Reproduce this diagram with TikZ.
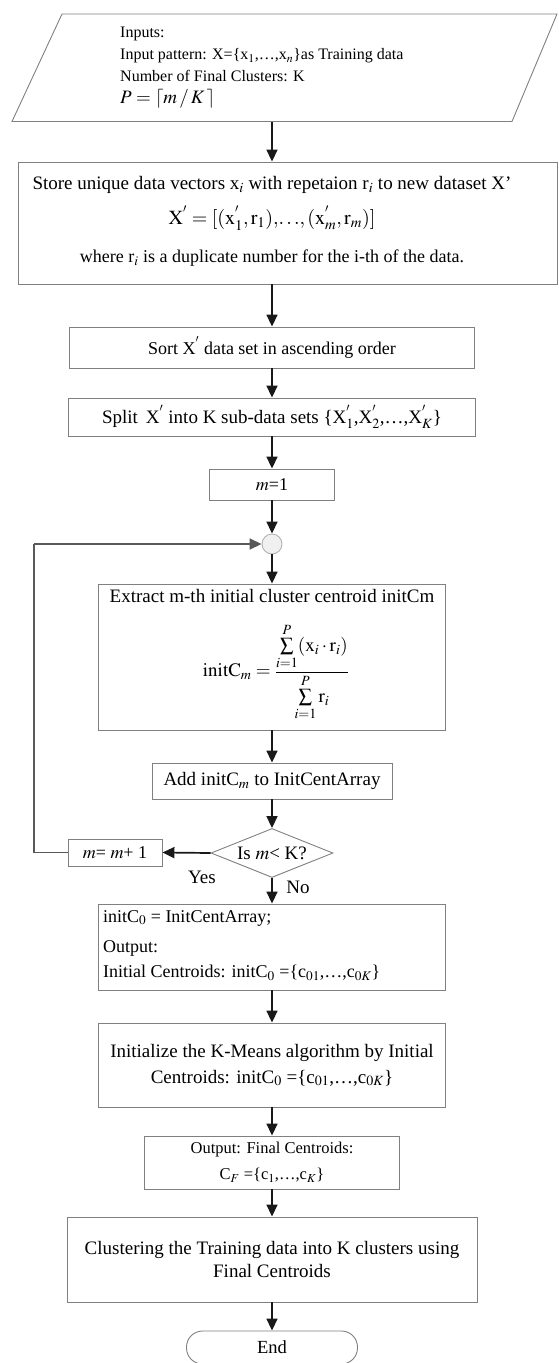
\documentclass[tikz,border=0pt]{standalone}
\usepackage{mathptmx}
\usepackage[no-math]{fontspec}
\setmainfont{Liberation Serif}
\usetikzlibrary{arrows.meta,shapes.geometric}
\newcommand\fs[2]{\fontsize{#1}{#2}\selectfont}
\begin{document}
\begin{tikzpicture}[x=1pt,y=-1pt,
  box/.style={draw=black!50, line width=0.9pt, rectangle, inner sep=0pt, align=center, font=\fs{19}{26}},
  txt/.style={inner sep=0pt, align=center, font=\fs{19}{23}},
  arr/.style={draw=black!90, line width=1.7pt, -{Triangle[length=12pt,width=11pt]}},
  loopline/.style={draw=black!65, line width=1.7pt},
  lbl/.style={font=\fs{19}{21}, inner sep=0pt}]
\useasboundingbox (0,0) rectangle (558,1363);
% input parallelogram
\draw[draw=black!50, line width=0.9pt] (62,14) -- (557,14) -- (512,121.5) -- (12,121.5) -- cycle;
\node[anchor=north west, align=left, inner sep=0pt, font=\fs{16}{22}] (inp) at (120,27)
  {Inputs:\\ Input pattern: X=\{x$_1$,\ldots,x$_n$\}as Training data\\ Number of Final Clusters: K\\ {\fs{19}{24}$P=\lceil m\, /\, K\,\rceil$}};
\coordinate (inb) at (272,121.5);
% box 2
\node[box, minimum width=539pt, minimum height=122pt] (b2) at (287.5,223) {};
\node[txt] (b2a) at (272,185) {Store unique data vectors x$_i$ with repetaion r$_i$ to new dataset X'};
\node[txt, font=\fs{20}{24}] (b2b) at (272,218)
  {$\mathrm{X}^{'}=[(\mathrm{x}^{'}_{1},\mathrm{r}_{1}),\!\ldots\!,(\mathrm{x}^{'}_{m},\mathrm{r}_{m})]$};
\node[txt, font=\fs{18}{22}] (b2c) at (272,258) {where r$_i$ is a duplicate number for the i-th of the data.};
\node[box, font=\fs{18}{22}, minimum width=405pt, minimum height=41pt] (sort) at (272,347.5) {Sort X$^{'}$ data set in ascending order};
\node[box, minimum width=407pt, minimum height=38pt] (split) at (272,417) {Split\, X$^{'}$ into K sub-data sets \{X$^{'}_1$,X$^{'}_2$,\ldots,X$^{'}_K$\}};
\node[box, font=\fs{18}{22}, minimum width=125pt, minimum height=31pt] (m1) at (272,484.5) {$m$=1};
\node[circle, draw=black!30, fill=black!6, line width=0.9pt, minimum size=20pt, inner sep=0pt] (jn) at (272,544) {};
\node[box, minimum width=347pt, minimum height=146pt] (ext) at (272,657) {};
\node[txt] (extt) at (272,596) {Extract m-th initial cluster centroid initCm};
\node[txt, font=\fs{19}{22}] (form) at (276,672)
  {$\displaystyle\mathrm{initC}_{m}=\frac{\sum\limits_{i=1}^{P}(\mathrm{x}_{i}\cdot \mathrm{r}_{i})}{\sum\limits_{i=1}^{P}\mathrm{r}_{i}}$};
\node[box, minimum width=240pt, minimum height=36pt] (add) at (272,781) {Add initC$_m$ to InitCentArray};
\node[diamond, draw=black!50, line width=0.9pt, minimum width=122pt, minimum height=49pt, inner sep=0pt, aspect=2.5, font=\fs{19}{21}] (dec) at (272,853) {Is $m$< K?};
\node[box, font=\fs{18}{22}, minimum width=94pt, minimum height=27pt] (mm) at (115,852.5) {$m$= $m$+ 1};
\node[lbl] (yes) at (202,877) {Yes};
\node[lbl] (no) at (298,887) {No};
\node[box, minimum width=347pt, minimum height=86pt] (b8) at (272,947) {};
\node[txt, anchor=west, font=\fs{18}{22}] (b8a) at (103,918) {initC$_0$ = InitCentArray;};
\node[txt, anchor=west, font=\fs{18}{22}] (b8b) at (103,948) {Output:};
\node[txt, anchor=west, font=\fs{18}{22}] (b8c) at (103,973) {Initial Centroids: initC$_0$ =\{c$_{01}$,\ldots,c$_{0K}$\}};
\node[box, minimum width=347pt, minimum height=84pt] (b9) at (272,1065)
  {Initialize the K-Means algorithm by Initial\\ Centroids: initC$_0$ =\{c$_{01}$,\ldots,c$_{0K}$\}};
\node[box, minimum width=255pt, minimum height=53pt, font=\fs{16.5}{26}] (b10) at (272,1162.5)
  {Output: Final Centroids:\\ C$_F$ =\{c$_1$,\ldots,c$_K$\}};
\node[box, minimum width=410pt, minimum height=85pt, font=\fs{19}{23}] (b11) at (272,1259.5)
  {Clustering the Training data into K clusters using\\ Final Centroids};
\node[box, font=\fs{18.5}{22}, rounded corners=16pt, minimum width=171pt, minimum height=33pt] (end) at (272,1347.5) {End};
% connectors
\draw[arr] (inb) -- (inb |- b2.north);
\draw[arr] (b2.south -| inb) -- (sort.north);
\draw[arr] (sort) -- (split);
\draw[arr] (split) -- (m1);
\draw[arr] (m1) -- (jn);
\draw[arr] (jn) -- (ext);
\draw[arr] (ext) -- (add);
\draw[arr] (add) -- (dec);
\draw[arr] (dec.west) -- (mm.east);
\draw[arr] (dec.south) -- (b8.north);
\draw[loopline] (mm.west) -- (34,852.5) -- (34,544);
\draw[arr, draw=black!65] (34,544) -- (jn.west);
\draw[arr] (b8) -- (b9);
\draw[arr] (b9) -- (b10);
\draw[arr] (b10) -- (b11);
\draw[arr] (b11) -- (end);
\end{tikzpicture}
\end{document}
